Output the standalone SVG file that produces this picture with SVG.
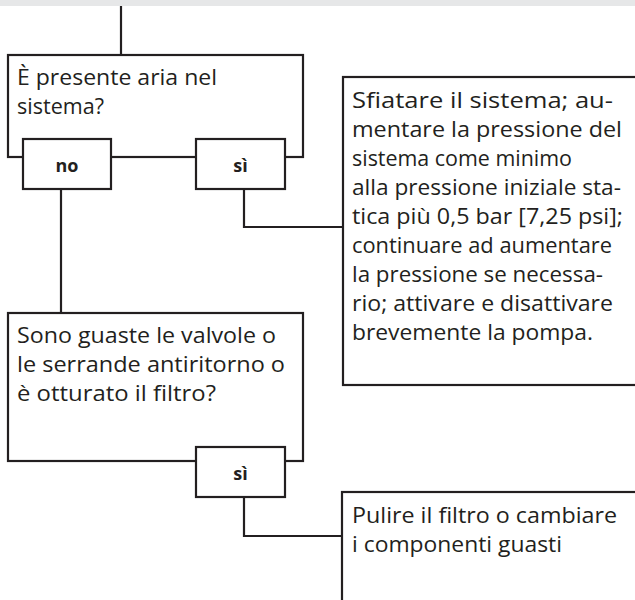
<svg xmlns="http://www.w3.org/2000/svg" width="635" height="600" viewBox="0 0 635 600">
<style>
.box{fill:#fff;stroke:#231f20;stroke-width:2.2}
.con{fill:none;stroke:#231f20;stroke-width:2.2}
.t{font-family:"Open Sans","Liberation Sans",sans-serif;font-size:22px;fill:#231f20}
.b{font-family:"Open Sans","Liberation Sans",sans-serif;font-size:18px;font-weight:bold;fill:#231f20;text-anchor:middle}
</style>
<rect x="0" y="0" width="635" height="6" fill="#e6e7e8"/>
<g id="connectors">
<path class="con" d="M121,6 V55"/>
<path class="con" d="M61,189 V313"/>
<path class="con" d="M244,189 V227 H343"/>
<path class="con" d="M244,497 V536 H342"/>
</g>
<g id="q1">
<rect class="box" x="8" y="55" width="295" height="102"/>
<text class="t" x="17" y="85" textLength="200" lengthAdjust="spacingAndGlyphs">È presente aria nel</text>
<text class="t" x="17" y="114" textLength="87" lengthAdjust="spacingAndGlyphs">sistema?</text>
</g>
<g id="q1-no">
<rect class="box" x="23" y="139" width="88" height="50"/>
<text class="b" x="67" y="172">no</text>
</g>
<g id="q1-si">
<rect class="box" x="196" y="139" width="89" height="50"/>
<text class="b" x="240.5" y="172">sì</text>
</g>
<g id="a1">
<rect class="box" x="343" y="77" width="400" height="308"/>
<text class="t" x="352" y="108" textLength="261" lengthAdjust="spacingAndGlyphs">Sfiatare il sistema; au-</text>
<text class="t" x="352" y="137" textLength="270" lengthAdjust="spacingAndGlyphs">mentare la pressione del</text>
<text class="t" x="352" y="166" textLength="220" lengthAdjust="spacingAndGlyphs">sistema come minimo</text>
<text class="t" x="352" y="195" textLength="269" lengthAdjust="spacingAndGlyphs">alla pressione iniziale sta-</text>
<text class="t" x="352" y="224" textLength="271" lengthAdjust="spacingAndGlyphs">tica più 0,5 bar [7,25 psi];</text>
<text class="t" x="352" y="253" textLength="260" lengthAdjust="spacingAndGlyphs">continuare ad aumentare</text>
<text class="t" x="352" y="282" textLength="251" lengthAdjust="spacingAndGlyphs">la pressione se necessa-</text>
<text class="t" x="352" y="311" textLength="261" lengthAdjust="spacingAndGlyphs">rio; attivare e disattivare</text>
<text class="t" x="352" y="340" textLength="241" lengthAdjust="spacingAndGlyphs">brevemente la pompa.</text>
</g>
<g id="q2">
<rect class="box" x="8" y="313" width="295" height="148"/>
<text class="t" x="17" y="343" textLength="259" lengthAdjust="spacingAndGlyphs">Sono guaste le valvole o</text>
<text class="t" x="17" y="372" textLength="268" lengthAdjust="spacingAndGlyphs">le serrande antiritorno o</text>
<text class="t" x="17" y="401" textLength="199" lengthAdjust="spacingAndGlyphs">è otturato il filtro?</text>
</g>
<g id="q2-si">
<rect class="box" x="196" y="447" width="89" height="50"/>
<text class="b" x="240.5" y="480">sì</text>
</g>
<g id="a2">
<rect class="box" x="342" y="492" width="400" height="200"/>
<text class="t" x="352" y="523" textLength="265" lengthAdjust="spacingAndGlyphs">Pulire il filtro o cambiare</text>
<text class="t" x="352" y="552" textLength="210" lengthAdjust="spacingAndGlyphs">i componenti guasti</text>
</g>
</svg>
